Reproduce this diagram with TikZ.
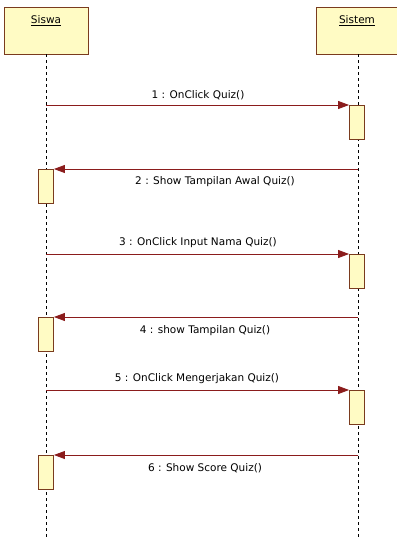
\documentclass[tikz,border=0pt]{standalone}
\usepackage{fontspec}
\setmainfont{DejaVu Sans}
\usetikzlibrary{arrows.meta}
\definecolor{boxfill}{HTML}{FFFBC4}
\definecolor{boxline}{HTML}{7A3B1E}
\definecolor{msg}{HTML}{8B1C1C}
\begin{document}
\begin{tikzpicture}[x=1pt,y=-1pt,
  actor/.style={draw=boxline, fill=boxfill, line width=0.9pt, minimum width=84pt, minimum height=47pt, inner sep=0pt},
  actlbl/.style={font=\fontsize{10.5}{12}\selectfont, inner sep=0pt},
  act/.style={draw=boxline, fill=boxfill, line width=0.9pt, minimum width=15pt, minimum height=34pt, inner sep=0pt, anchor=north},
  life/.style={draw=black, dash pattern=on 3pt off 3pt, line width=0.8pt},
  msgline/.style={draw=msg, line width=0.8pt, -{Triangle[length=11pt,width=8pt]}},
  lbl/.style={font=\fontsize{10.5}{12}\selectfont, inner sep=0pt}]
\useasboundingbox (0,0) rectangle (396,537);
\fill[white] (0,0) rectangle (396,537);
% actors
\node[actor] (siswa) at (46,30.5) {};
\node[actor] (sistem) at (358,30.5) {};
\node[actlbl] (siswat) at (46,21) {\underline{Siswa}};
\node[actlbl] (sistemt) at (357,21) {\underline{Sistem}};
% lifelines
\coordinate (siswaend) at (46,540);
\coordinate (sistemend) at (358,540);
\draw[life] (siswa.south) -- (siswaend);
\draw[life] (sistem.south) -- (sistemend);
% activations
\node[act] (a1) at (357,105) {};
\node[act] (a2) at (46,169) {};
\node[act] (a3) at (357,254) {};
\node[act] (a4) at (46,317) {};
\node[act] (a5) at (357,390) {};
\node[act] (a6) at (46,455) {};
% message start points
\coordinate (s1) at (46,105);
\coordinate (s2) at (358,169);
\coordinate (s3) at (46,254);
\coordinate (s4) at (358,317);
\coordinate (s5) at (46,390);
\coordinate (s6) at (358,455);
% messages
\draw[msgline] (s1) -- (a1.north west);
\draw[msgline] (s2) -- (a2.north east);
\draw[msgline] (s3) -- (a3.north west);
\draw[msgline] (s4) -- (a4.north east);
\draw[msgline] (s5) -- (a5.north west);
\draw[msgline] (s6) -- (a6.north east);
% labels
\node[lbl] (l1) at (198,95) {1 : OnClick Quiz()};
\node[lbl] (l2) at (215,182) {2 : Show Tampilan Awal Quiz()};
\node[lbl] (l3) at (198,243) {3 : OnClick Input Nama Quiz()};
\node[lbl] (l4) at (205,331) {4 : show Tampilan Quiz()};
\node[lbl] (l5) at (197,379) {5 : OnClick Mengerjakan Quiz()};
\node[lbl] (l6) at (205,468) {6 : Show Score Quiz()};
\end{tikzpicture}
\end{document}
